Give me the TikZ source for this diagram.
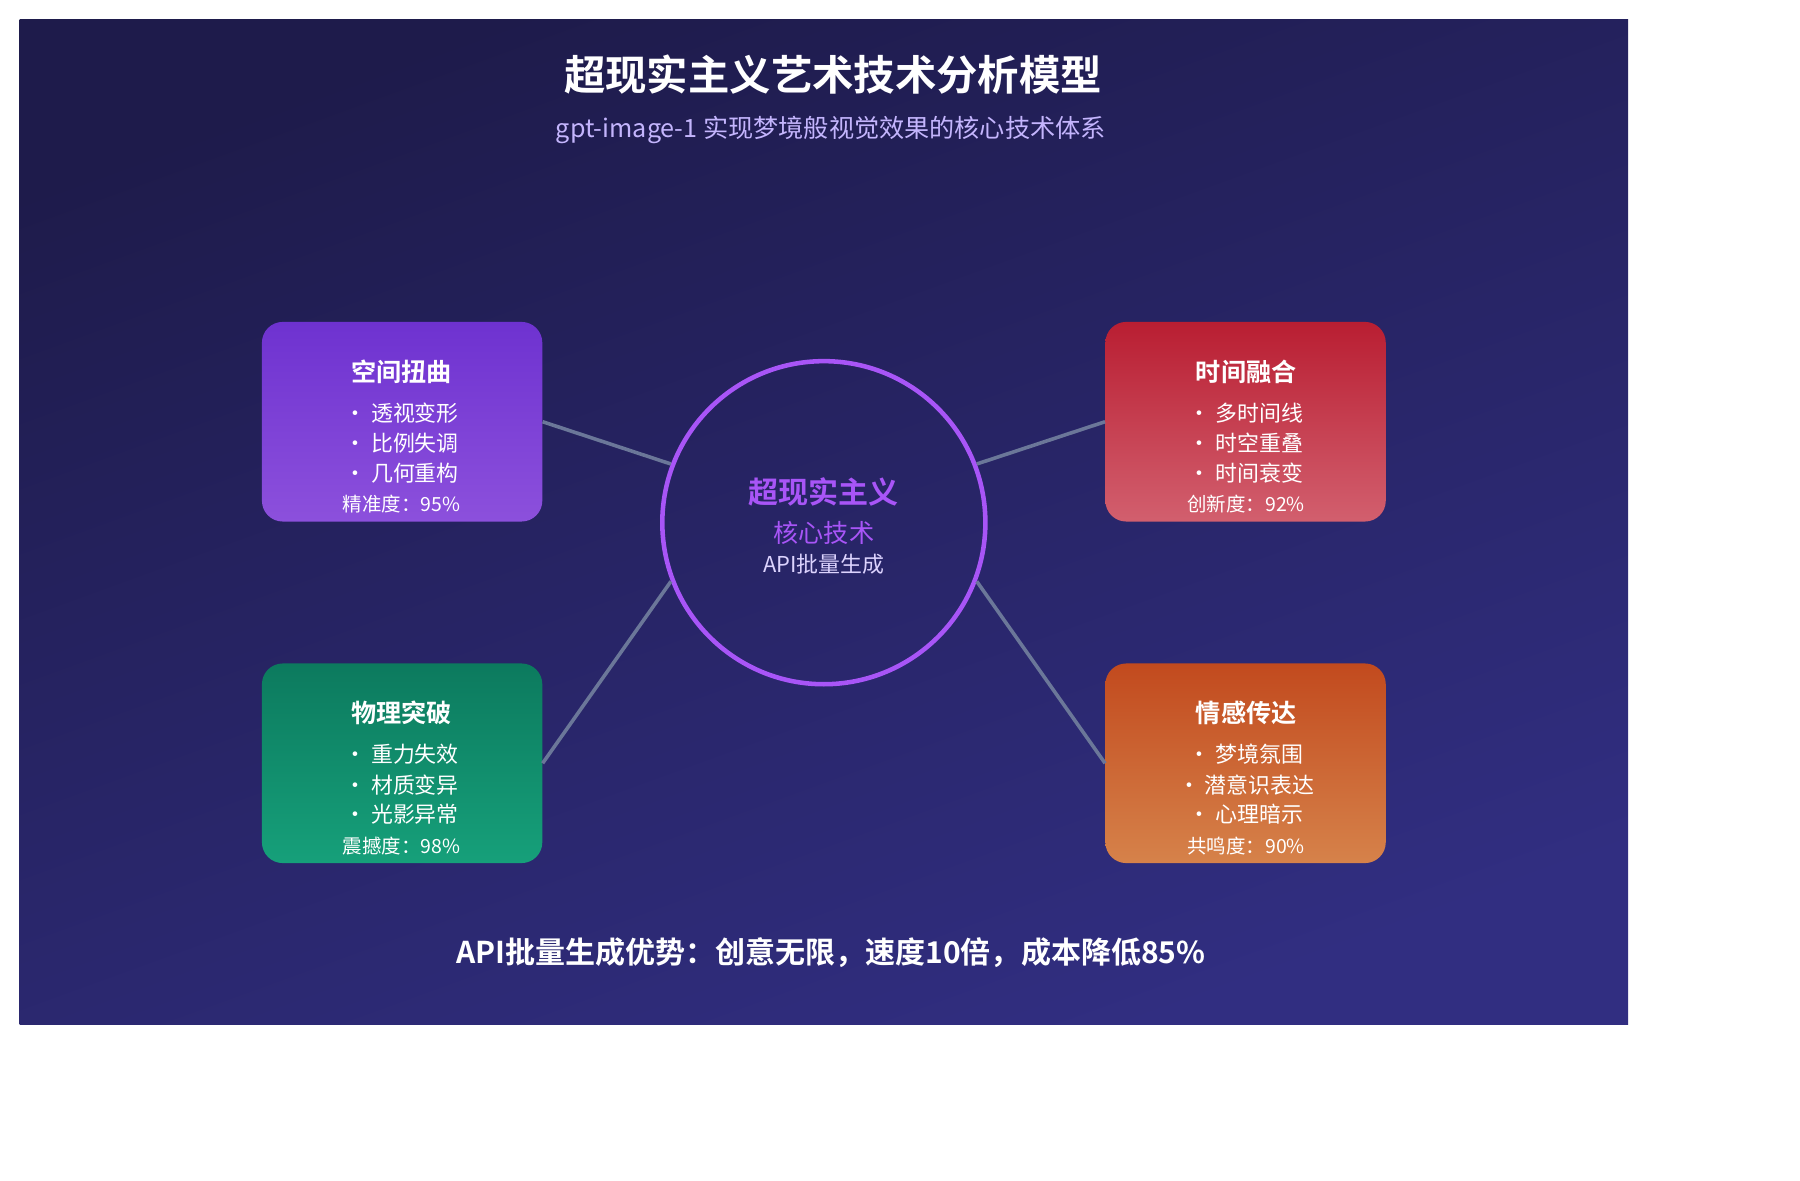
\documentclass[tikz,border=0pt]{standalone}
\usepackage{fontspec}
\setmainfont{Noto Sans CJK SC}[BoldFont={Noto Sans CJK SC Bold}]
\usetikzlibrary{positioning}
\definecolor{bgA}{HTML}{1E1B4B}
\definecolor{bgB}{HTML}{312E81}
\definecolor{lav}{HTML}{C4B5FD}
\definecolor{violet}{HTML}{A855F7}
\definecolor{link}{HTML}{6B7799}
\tikzset{
  card/.style={rounded corners=18*0.025cm, minimum width=243*0.025cm, minimum height=173*0.025cm, shading=axis, shading angle=135},
  head/.style={text=white, font=\fontsize{15.5}{18}\selectfont\bfseries},
  item/.style={text=white, font=\fontsize{13.5}{16}\selectfont},
  rate/.style={text=white, font=\fontsize{12}{14}\selectfont},
  linkline/.style={draw=link, line width=2.2pt}
}
\begin{document}
\begin{tikzpicture}[x=0.025cm, y=-0.025cm]
    \useasboundingbox (0,0) rectangle (1560,1023);
    \shade[top color=bgA, bottom color=bgB, shading angle=20] (17,17) rectangle (1411,888);
    \node[text=white, font=\fontsize{25.5}{30}\selectfont\bfseries] at (722,65) (title) {超现实主义艺术技术分析模型};
    \node[text=lav, font=\fontsize{15.5}{18}\selectfont] at (720,113) (sub) {gpt-image-1 实现梦境般视觉效果的核心技术体系};
    % four cards
    \node[card, left color=purple!0, top color={rgb,255:red,110;green,50;blue,208}, bottom color={rgb,255:red,140;green,80;blue,220}] at (348.5,365.5) (space) {};
    \node[card, top color={rgb,255:red,185;green,30;blue,50}, bottom color={rgb,255:red,210;green,95;blue,110}] at (1079.5,365.5) (time) {};
    \node[card, top color={rgb,255:red,12;green,122;blue,94}, bottom color={rgb,255:red,22;green,160;blue,122}] at (348.5,661.5) (phys) {};
    \node[card, top color={rgb,255:red,194;green,74;blue,30}, bottom color={rgb,255:red,214;green,130;blue,74}] at (1079.5,661.5) (emo) {};
    % card texts
    \node[head] at (348,322) (spaceH) {空间扭曲};
    \node[item] at (348,358) {• 透视变形};
    \node[item] at (348,384) {• 比例失调};
    \node[item] at (348,410) {• 几何重构};
    \node[rate] at (348,437) {精准度：95\%};
    \node[head] at (1080,322) (timeH) {时间融合};
    \node[item] at (1080,358) {• 多时间线};
    \node[item] at (1080,384) {• 时空重叠};
    \node[item] at (1080,410) {• 时间衰变};
    \node[rate] at (1080,437) {创新度：92\%};
    \node[head] at (348,618) (physH) {物理突破};
    \node[item] at (348,654) {• 重力失效};
    \node[item] at (348,680) {• 材质变异};
    \node[item] at (348,706) {• 光影异常};
    \node[rate] at (348,733) {震撼度：98\%};
    \node[head] at (1080,618) (emoH) {情感传达};
    \node[item] at (1080,654) {• 梦境氛围};
    \node[item] at (1080,680) {• 潜意识表达};
    \node[item] at (1080,706) {• 心理暗示};
    \node[rate] at (1080,733) {共鸣度：90\%};
    % center
    \node[circle, draw=violet, line width=2.8pt, minimum size=280*0.025cm] at (714,453) (core) {};
    \node[text=violet, font=\fontsize{18.5}{22}\selectfont\bfseries] at (714,426) (coreA) {超现实主义};
    \node[text=violet, font=\fontsize{15.5}{18}\selectfont] at (714,462) (coreB) {核心技术};
    \node[text=lav!60!white, font=\fontsize{13.5}{16}\selectfont] at (714,489) (coreC) {API批量生成};
    % links
    \draw[linkline] (space.east) -- (core.159);
    \draw[linkline] (time.west) -- (core.21);
    \draw[linkline] (phys.east) -- (core.201);
    \draw[linkline] (emo.west) -- (core.339);
    \node[text=white, font=\fontsize{18.5}{22}\selectfont\bfseries] at (720,826) (foot) {API批量生成优势：创意无限，速度10倍，成本降低85\%};
\end{tikzpicture}
\end{document}
